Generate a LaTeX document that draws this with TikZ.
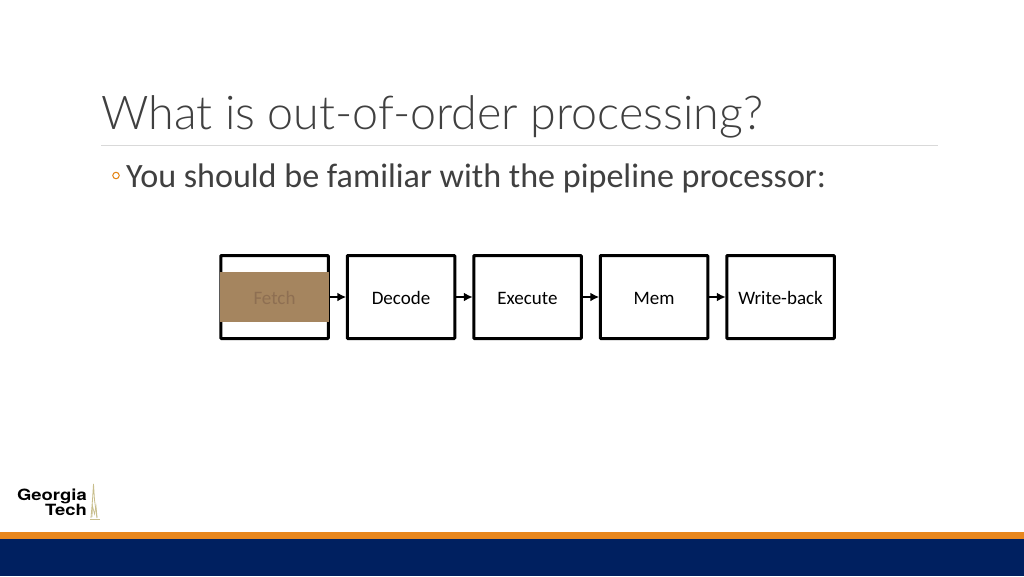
\documentclass[tikz,border=0pt]{standalone}
\usepackage{fontspec}
\setmainfont{Carlito}
\newfontfamily\titlefont{Lato Light}
\newfontfamily\logofont{TeX Gyre Heros}[FakeStretch=1.19]
\usetikzlibrary{arrows.meta}
\definecolor{titlegray}{HTML}{404040}
\definecolor{rulegray}{HTML}{D9D9D9}
\definecolor{bulletorange}{HTML}{E48312}
\definecolor{bandorange}{HTML}{E8871E}
\definecolor{bandnavy}{HTML}{002060}
\definecolor{overlaybrown}{HTML}{A5855F}
\definecolor{fetchtext}{HTML}{8E6F52}
\definecolor{towercol}{HTML}{C8BE8C}
\tikzset{
  pipe/.style={draw=black,line width=3pt,fill=white,minimum width=107.5pt,minimum height=83pt,inner sep=0pt,rounded corners=0.8pt,font=\fontsize{19}{20}\selectfont,text=black,text height=14pt,text depth=0pt},
  flow/.style={draw=black,line width=2.6pt,-{Latex[length=9pt,width=9pt]},shorten >=-0.5pt},
  logotext/.style={anchor=base east,inner sep=0pt,text depth=0pt,font=\logofont\bfseries\fontsize{15.5}{16}\selectfont}
}
\begin{document}
\begin{tikzpicture}[x=1pt,y=-1pt]
\useasboundingbox[fill=white] (0,0) rectangle (1024,576);
\node[anchor=base west,inner sep=0pt,text=titlegray,font=\titlefont\fontsize{46.6}{54}\selectfont] (title) at (101,129) {What is out-of-order processing?};
\draw[rulegray,line width=1.6pt] (101,145.5) -- (938,145.5);
\node[draw=bulletorange,line width=1pt,circle,minimum size=6.5pt,inner sep=0pt] (bullet) at (116,175.5) {};
\node[anchor=base west,inner sep=0pt,text=titlegray,font=\fontsize{34.1}{36}\selectfont] (body) at (126,187) {You should be familiar with the pipeline processor:};
\node[pipe] (fetch) at (274.5,297) {};
\node[pipe] (decode) at (401,297) {Decode};
\node[pipe] (execute) at (527.5,297) {Execute};
\node[pipe] (mem) at (654,297) {Mem};
\node[pipe] (wb) at (780.5,297) {Write-back};
\fill[overlaybrown] (220,272) rectangle (329,322);
\node[text=fetchtext,font=\fontsize{19}{20}\selectfont,inner sep=0pt,text height=14pt,text depth=0pt] (fetchlabel) at (274.5,297) {Fetch};
\draw[flow] (fetch) -- (decode);
\draw[flow] (decode) -- (execute);
\draw[flow] (execute) -- (mem);
\draw[flow] (mem) -- (wb);
\node[logotext] (logoa) at (87,500.5) {Georgia};
\node[logotext] (logob) at (87,515) {Tech};
\draw[towercol,line width=0.8pt] (91,518) -- (92.5,500) -- (93.5,484) -- (94.5,500) -- (97,518);
\draw[towercol,line width=0.7pt] (92,517) -- (92.5,506) -- (94.5,514) -- (96,506) -- (97,517);
\draw[towercol,line width=1.2pt] (90,519.5) -- (100,519.5);
\fill[bandorange] (0,532) rectangle (1024,538.5);
\fill[bandnavy] (0,538.5) rectangle (1024,576);
\end{tikzpicture}
\end{document}
